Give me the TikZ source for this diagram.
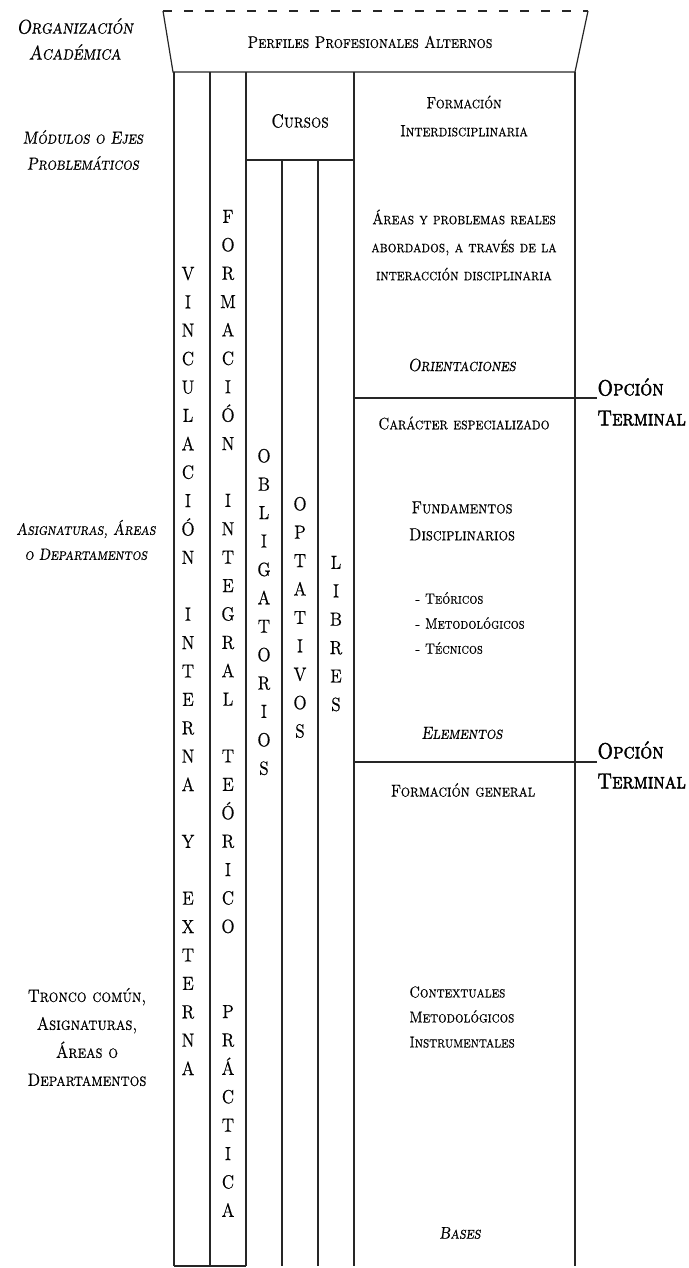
\documentclass[tikz,border=0pt]{standalone}
\usepackage{fontspec}
\newfontfamily\capsfont{lmromancaps10-regular.otf}[ItalicFont=lmromancaps10-oblique.otf, FakeStretch=0.85, FakeBold=0.4]
\newfontfamily\optfont{lmromancaps10-regular.otf}[FakeBold=2, FakeStretch=0.85]

\tikzset{
  rule/.style={line width=0.6pt, black!85},
  letters/.style={font=\capsfont\fontsize{9.5}{14.2}\selectfont, align=center, inner sep=0pt, anchor=north},
  txt/.style={font=\capsfont\fontsize{8.2}{14}\selectfont, align=center, inner sep=0pt},
  itxt/.style={font=\capsfont\itshape\fontsize{8.5}{13}\selectfont, align=center, inner sep=0pt},
  opcion/.style={font=\optfont\fontsize{11}{15}\selectfont, align=left, anchor=west, inner sep=0pt},
}

\begin{document}
\begin{tikzpicture}[x=0.5pt, y=-0.5pt]
    \useasboundingbox (0,0) rectangle (689,1268);
    % perfiles (trapecio)
    \draw[rule, line width=1pt, dash pattern=on 4.5pt off 6pt] (163,11) -- (588,11);
    \draw[rule] (163,11) -- (173,72) -- (575,72) -- (588,11);
    \node[txt, font=\capsfont\fontsize{8.5}{10}\selectfont] (perfiles) at (370,42) {Perfiles Profesionales Alternos};
    % columnas
    \draw[rule] (174,72) -- (174,1266);
    \draw[rule] (210,72) -- (210,1266);
    \draw[rule] (246,72) -- (246,1266);
    \draw[rule] (282,160) -- (282,1266);
    \draw[rule] (318,160) -- (318,1266);
    \draw[rule] (354,72) -- (354,1266);
    \draw[rule] (575,72) -- (575,1266);
    \draw[rule] (246,160) -- (354,160);
    \draw[rule] (174,1266) -- (246,1266);
    \node[txt, font=\capsfont\fontsize{9.5}{10}\selectfont] (cursos) at (300,121) {Cursos};
    % letras verticales
    \node[letters] (vinculacion) at (188,266.5) {V\\I\\N\\C\\U\\L\\A\\C\\I\\Ó\\N\\~\\I\\N\\T\\E\\R\\N\\A\\~\\Y\\~\\E\\X\\T\\E\\R\\N\\A};
    \node[letters] (formacion) at (228,209.5) {F\\O\\R\\M\\A\\C\\I\\Ó\\N\\~\\I\\N\\T\\E\\G\\R\\A\\L\\~\\T\\E\\Ó\\R\\I\\C\\O\\~\\~\\P\\R\\Á\\C\\T\\I\\C\\A};
    \node[letters] (obligatorios) at (264,448.5) {O\\B\\L\\I\\G\\A\\T\\O\\R\\I\\O\\S};
    \node[letters] (optativos) at (300,496.5) {O\\P\\T\\A\\T\\I\\V\\O\\S};
    \node[letters] (libres) at (336,555.5) {L\\I\\B\\R\\E\\S};
    % columna derecha
    \node[txt] (interdisc) at (464,116) {Formación\\Interdisciplinaria};
    \node[txt, font=\capsfont\fontsize{8.1}{14}\selectfont] (areas) at (464,245) {Áreas y problemas reales\\abordados, a través de la\\interacción disciplinaria};
    \node[itxt, font=\capsfont\itshape\fontsize{8.8}{13}\selectfont] (orientaciones) at (462,365) {Orientaciones};
    \node[txt, font=\capsfont\fontsize{8.3}{14}\selectfont] (caracter) at (464,423) {Carácter especializado};
    \node[txt, font=\capsfont\fontsize{8.8}{13.5}\selectfont] (fundamentos) at (462,521) {Fundamentos\\Disciplinarios};
    \node[txt, font=\capsfont\fontsize{7.5}{12.5}\selectfont, align=left, anchor=west] (tipos) at (415,623) {- Teóricos\\- Metodológicos\\- Técnicos};
    \node[itxt, font=\capsfont\itshape\fontsize{8.8}{13}\selectfont] (elementos) at (462,733) {Elementos};
    \node[txt, font=\capsfont\fontsize{8.6}{14}\selectfont] (fgeneral) at (463,790) {Formación general};
    \node[txt, font=\capsfont\fontsize{7.9}{12.5}\selectfont, align=left, anchor=west] (contextuales) at (409,1017) {Contextuales\\Metodológicos\\Instrumentales};
    \node[itxt] (bases) at (460,1233) {Bases};
    % opcion terminal
    \node[opcion] (opc1) at (597,402) {Opción\\Terminal};
    \node[opcion] (opc2) at (597,765) {Opción\\Terminal};
    \coordinate (l1) at (354,398);
    \coordinate (l2) at (354,762);
    \draw[rule] (l1) -- (l1 -| opc1.west);
    \draw[rule] (l2) -- (l2 -| opc2.west);
    % etiquetas izquierda
    \node[itxt, font=\capsfont\itshape\fontsize{10}{13}\selectfont] (organizacion) at (75,39) {Organización\\Académica};
    \node[itxt, font=\capsfont\itshape\fontsize{8.8}{13}\selectfont] (modulos) at (83,150) {Módulos o Ejes\\Problemáticos};
    \node[itxt, font=\capsfont\itshape\fontsize{8.2}{12.5}\selectfont] (asignaturas) at (86,540) {Asignaturas, Áreas\\o Departamentos};
    \node[txt, font=\capsfont\fontsize{9}{14}\selectfont] (tronco) at (87,1037) {Tronco común,\\Asignaturas,\\Áreas o\\Departamentos};
\end{tikzpicture}
\end{document}
